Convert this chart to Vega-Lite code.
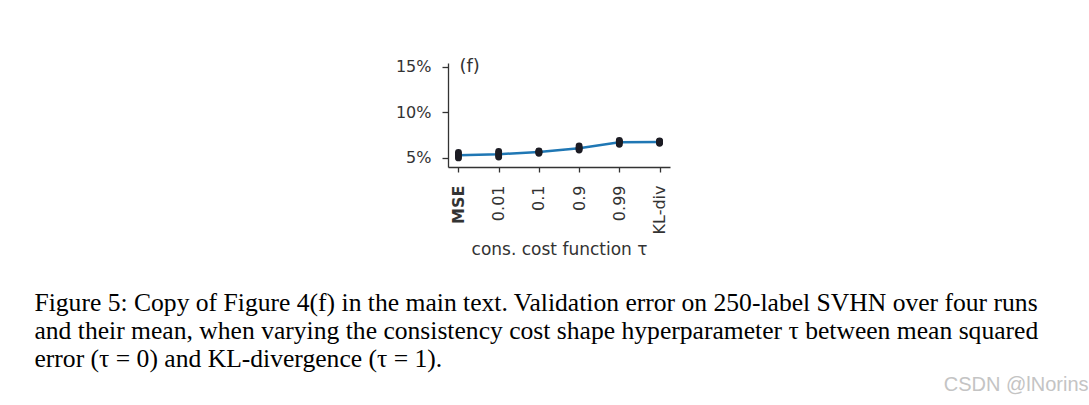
{
  "$schema": "https://vega.github.io/schema/vega-lite/v6.json",
  "width": 222,
  "height": 104,
  "autosize": {"type": "none"},
  "padding": {"left": 448, "top": 63, "right": 419, "bottom": 238},
  "background": "white",
  "config": {
    "view": {"stroke": null},
    "axis": {
      "labelFont": "DejaVu Sans", "titleFont": "DejaVu Sans",
      "labelColor": "#333", "titleColor": "#333",
      "domainColor": "#333", "tickColor": "#333",
      "domainWidth": 1.3, "tickWidth": 1.3,
      "labelFontSize": 16, "titleFontSize": 17, "titleFontWeight": "normal",
      "grid": false
    }
  },
  "title": {
    "text": [
      "Figure 5:  Copy of Figure 4(f) in the main text. Validation error on 250-label SVHN over four runs",
      "and their mean, when varying the consistency cost shape hyperparameter τ between mean squared",
      "error (τ = 0) and KL-divergence (τ = 1)."
    ],
    "orient": "bottom", "anchor": "start", "dx": -361, "offset": -104,
    "font": "Liberation Serif", "fontSize": 25.6, "fontWeight": "normal",
    "color": "black", "lineHeight": 28, "baseline": "top"
  },
  "datasets": {
    "runs": [
      {"tau": "MSE", "err": 0.050}, {"tau": "MSE", "err": 0.052}, {"tau": "MSE", "err": 0.054}, {"tau": "MSE", "err": 0.056},
      {"tau": "0.01", "err": 0.051}, {"tau": "0.01", "err": 0.053}, {"tau": "0.01", "err": 0.055}, {"tau": "0.01", "err": 0.057},
      {"tau": "0.1", "err": 0.055}, {"tau": "0.1", "err": 0.056}, {"tau": "0.1", "err": 0.057}, {"tau": "0.1", "err": 0.0575},
      {"tau": "0.9", "err": 0.0585}, {"tau": "0.9", "err": 0.060}, {"tau": "0.9", "err": 0.061}, {"tau": "0.9", "err": 0.063},
      {"tau": "0.99", "err": 0.065}, {"tau": "0.99", "err": 0.067}, {"tau": "0.99", "err": 0.068}, {"tau": "0.99", "err": 0.069},
      {"tau": "KL-div", "err": 0.066}, {"tau": "KL-div", "err": 0.067}, {"tau": "KL-div", "err": 0.068}, {"tau": "KL-div", "err": 0.0685}
    ],
    "means": [
      {"tau": "MSE", "err": 0.053},
      {"tau": "0.01", "err": 0.054},
      {"tau": "0.1", "err": 0.0564},
      {"tau": "0.9", "err": 0.0606},
      {"tau": "0.99", "err": 0.0672},
      {"tau": "KL-div", "err": 0.0674}
    ],
    "labels": [
      {"tau": "MSE", "err": 0.15, "label": "(f)"}
    ],
    "mark": [
      {"tau": "KL-div", "err": 0.15, "label": "CSDN @lNorins"}
    ]
  },
  "encoding": {
    "x": {
      "field": "tau", "type": "ordinal",
      "sort": ["MSE", "0.01", "0.1", "0.9", "0.99", "KL-div"],
      "scale": {"type": "point", "padding": 0.26},
      "axis": {
        "title": "cons. cost function τ",
        "labelAngle": -90, "tickSize": 5, "labelPadding": 13, "titlePadding": 8,
        "labelFontWeight": {"condition": {"test": "datum.value === 'MSE'", "value": "bold"}, "value": "normal"}
      }
    },
    "y": {
      "field": "err", "type": "quantitative",
      "scale": {"domain": [0.04, 0.154], "nice": false, "zero": false},
      "axis": {"title": null, "format": ".0%", "values": [0.05, 0.10, 0.15], "tickSize": 6, "labelPadding": 11}
    }
  },
  "layer": [
    {
      "data": {"name": "means"},
      "mark": {"type": "line", "color": "#1f77b4", "strokeWidth": 2.5}
    },
    {
      "data": {"name": "runs"},
      "mark": {"type": "circle", "color": "#1c1c24", "size": 48, "opacity": 1}
    },
    {
      "data": {"name": "labels"},
      "mark": {"type": "text", "font": "DejaVu Sans", "fontSize": 18, "color": "#333", "align": "left", "baseline": "middle", "dx": 1},
      "encoding": {"text": {"field": "label"}}
    },
    {
      "data": {"name": "mark"},
      "mark": {"type": "text", "font": "Liberation Sans", "fontSize": 20, "color": "#c4c4c4", "align": "right", "baseline": "middle", "dx": 429, "dy": 318},
      "encoding": {"text": {"field": "label"}}
    }
  ]
}
